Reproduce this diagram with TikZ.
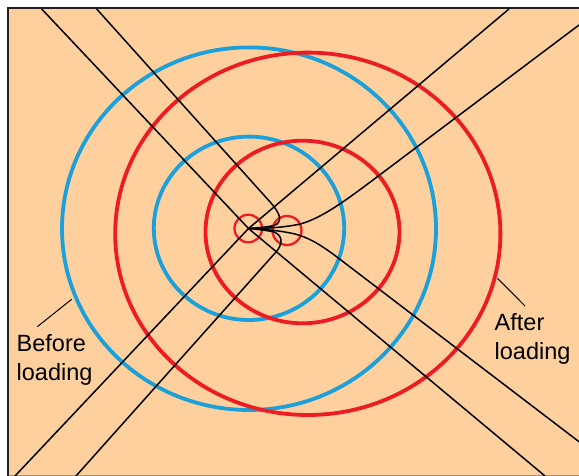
\documentclass[tikz,border=0pt]{standalone}
\usepackage{fontspec}
\setmainfont{Liberation Sans}
\definecolor{peach}{RGB}{253,208,158}
\definecolor{ringblue}{RGB}{27,160,219}
\definecolor{ringred}{RGB}{237,28,36}
\definecolor{frame}{RGB}{35,31,32}
\definecolor{bottomline}{RGB}{170,140,110}
\tikzset{
  bluering/.style={draw=ringblue,line width=3.8pt},
  redring/.style={draw=ringred,line width=3.8pt},
  smallring/.style={draw=ringred,line width=2.3pt},
  fline/.style={draw=black,line width=1.5pt},
  leader/.style={draw=black,line width=1pt},
  lbl/.style={font=\fontsize{23.5}{29}\selectfont,align=left,anchor=base west,inner sep=0pt}
}
\begin{document}
\begin{tikzpicture}[x=1pt,y=-1pt]
\useasboundingbox (0,0) rectangle (579,476);
% background
\fill[peach] (8,8) rectangle (579,476);
\draw[bottomline,line width=1pt] (8,475.5) -- (579,475.5);
% rings
\draw[bluering] (249,228.7) ellipse [x radius=187, y radius=181.3];
\draw[bluering] (249,228.3) ellipse [x radius=95.2, y radius=91.7];
\draw[redring] (307.8,233.8) ellipse [x radius=192.6, y radius=181.2];
\draw[redring] (302.5,232) ellipse [x radius=97, y radius=91.3];
\draw[smallring] (248.3,228.5) circle [radius=13.8];
\draw[smallring] (287,230.5) circle [radius=14.5];
% crack tip
\coordinate (T) at (248.5,228.5);
\coordinate (A0) at (41.7,9);
\coordinate (B0) at (96.7,9);
\coordinate (C0) at (509,9);
\coordinate (D0) at (579,25);
\coordinate (E0) at (545,476);
\coordinate (F0) at (579,441.7);
\coordinate (G0) at (76,476);
\coordinate (H0) at (15,476);
\draw[fline] (A0) -- (T);
\draw[fline] (C0) -- (T);
\draw[fline] (E0) -- (T);
\draw[fline] (H0) -- (T);
\draw[fline] (B0) -- (271,203) .. controls (279,212) and (284,222) .. (274,225.5) .. controls (265,227.5) and (255,228) .. (T);
\draw[fline] (G0) -- (276,252) .. controls (282,245.3) and (284,236) .. (274,232) .. controls (265,230) and (255,229) .. (T);
\draw[fline] (D0) -- (373,180) .. controls (340,204.8) and (318,220) .. (298,224.5) .. controls (280,228) and (262,228.5) .. (T);
\draw[fline] (F0) -- (335,255.5) .. controls (318,243) and (308,237.5) .. (295,234) .. controls (280,230.5) and (262,229) .. (T);
% frame
\draw[frame,line width=2.5pt] (8,476) -- (8,8) -- (579,8);
% labels (anchor at baseline of last line)
\node[lbl] (before) at (16.5,380) {Before\\loading};
\node[lbl] (after) at (494.5,359.3) {After\\loading};
\coordinate (bl1) at (37.3,326.7);
\coordinate (bl2) at (71.7,299.3);
\coordinate (al1) at (497.5,278.3);
\coordinate (al2) at (525,306);
\draw[leader] (bl1) -- (bl2);
\draw[leader] (al1) -- (al2);
\end{tikzpicture}
\end{document}
